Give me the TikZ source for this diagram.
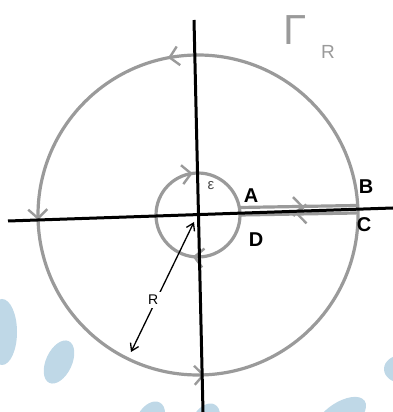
\documentclass[tikz,border=0pt]{standalone}
\usepackage{fontspec}
\setmainfont{Liberation Sans}
\usetikzlibrary{arrows.meta,decorations.markings}
\definecolor{pen}{HTML}{9A9A9A}
\definecolor{blob}{HTML}{BFD8E7}
\begin{document}
\begin{tikzpicture}[x=1pt,y=1pt,
  contour/.style={draw=pen,line width=3.2pt,line cap=round},
  axis/.style={draw=black,line width=3pt},
  chev/.tip={Straight Barb[length=9pt,width=19pt,line width=2.4pt]},
  lbl/.style={font=\bfseries\fontsize{20}{20}\selectfont,inner sep=0pt},
  blobshape/.style={fill=blob,draw=none}]
\useasboundingbox (0,0) rectangle (393,412);
% background blobs
\fill[blobshape] (2,80) ellipse [x radius=15, y radius=33];
\fill[blobshape,rotate around={-25:(59,50)}] (59,50) ellipse [x radius=13, y radius=23];
\fill[blobshape,rotate around={-30:(150,-8)}] (150,-8) ellipse [x radius=13, y radius=20];
\fill[blobshape,rotate around={-30:(205,-10)}] (205,-10) ellipse [x radius=13, y radius=20];
\fill[blobshape,rotate around={35:(340,-6)}] (340,-6) ellipse [x radius=30, y radius=15];
\fill[blobshape] (402,43) ellipse [x radius=18, y radius=14];
% centre
\coordinate (O) at (198,197);
% axes
\coordinate (xl) at (8,191);
\coordinate (xr) at (393,204);
\coordinate (yt) at (194,392);
\coordinate (yb) at (203,0);
% big circle (counterclockwise)
\draw[contour,postaction={decorate},decoration={markings,
  mark=at position 0.28 with {\arrow{chev}},
  mark=at position 0.505 with {\arrow{chev}},
  mark=at position 0.757 with {\arrow{chev}}}]
  (O) circle (160);
% small circle (clockwise)
\draw[contour,postaction={decorate},decoration={markings,
  mark=at position 0.27 with {\arrowreversed{chev}},
  mark=at position 0.73 with {\arrowreversed{chev}}}]
  (O) circle (42);
% keyhole lines
\coordinate (a) at (240,204.5);
\coordinate (b) at (356,206.5);
\coordinate (d) at (240,197);
\coordinate (c) at (356,199);
\draw[contour,postaction={decorate},decoration={markings,
  mark=at position 0.55 with {\arrow{chev}}}] (a) -- (b);
\draw[contour,postaction={decorate},decoration={markings,
  mark=at position 0.52 with {\arrow{chev}}}] (c) -- (d);
\draw[axis] (xl) -- (xr);
\draw[axis] (yt) -- (yb);
% radius arrow
\coordinate (r1) at (194,190);
\coordinate (r2) at (131,60);
\draw[black,line width=1.3pt,{Straight Barb[length=7pt,width=9pt]}-{Straight Barb[length=7pt,width=9pt]}]
  (r1) -- node[pos=0.6,fill=white,inner sep=3pt,font=\fontsize{14}{14}\selectfont,xshift=-3pt] (rl) {R} (r2);
% labels
\node[lbl] (A) at (251,216) {A};
\node[lbl] (B) at (366,225) {B};
\node[lbl] (C) at (364,187) {C};
\node[lbl] (D) at (256,172) {D};
\node[text=pen,font=\fontsize{42}{42}\selectfont,inner sep=0pt] (G) at (295,382) {Γ};
\node[text=pen,font=\fontsize{19}{19}\selectfont,inner sep=0pt] (GR) at (328,360) {R};
\node[text=black!70,font=\fontsize{15}{15}\selectfont,inner sep=0pt] (eps) at (211,226) {ε};
\end{tikzpicture}
\end{document}
